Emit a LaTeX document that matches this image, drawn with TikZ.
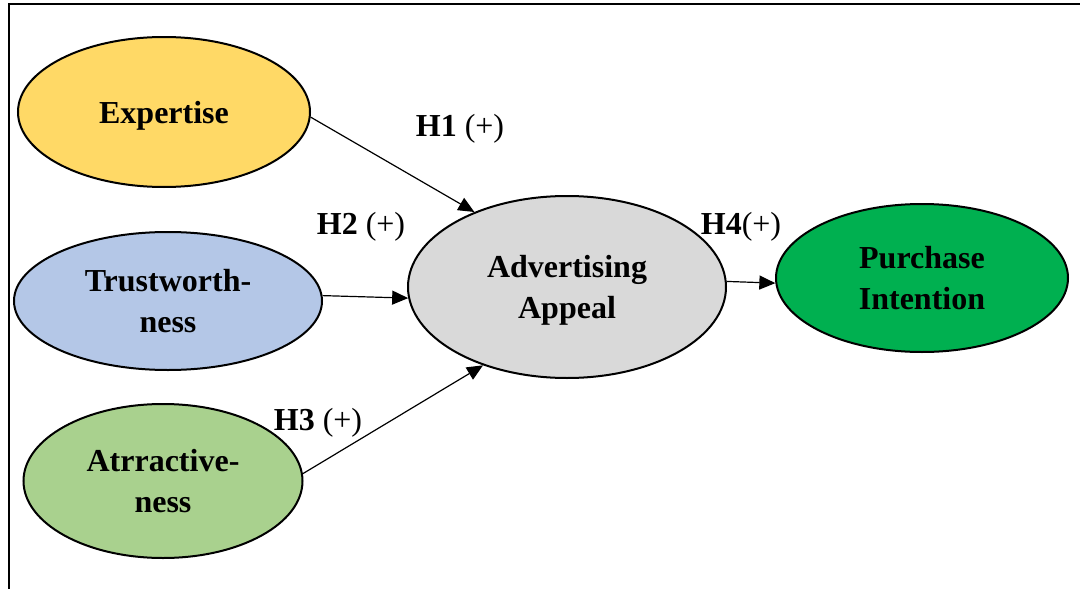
\documentclass[tikz,border=0pt]{standalone}
\usepackage{fontspec}
\setmainfont{Liberation Serif}
\usepackage[svgnames, dvipsnames]{xcolor}
\usetikzlibrary{arrows.meta, shapes.geometric}
\definecolor{expYellow}{HTML}{FFD966}
\definecolor{trustBlue}{HTML}{B4C7E7}
\definecolor{attrGreen}{HTML}{A9D18E}
\definecolor{adGray}{HTML}{D9D9D9}
\definecolor{purGreen}{HTML}{00B050}

\begin{document}
\begin{tikzpicture}[x=1pt, y=-1pt,
    myellipse/.style={ellipse, draw=black, line width=2pt, inner sep=0pt, align=center, text depth=0pt,
        font=\fontsize{32}{41}\selectfont\bfseries},
    myarrow/.style={-{Triangle[length=16pt, width=14pt]}, line width=1.2pt},
    mylabel/.style={font=\fontsize{32}{36}\selectfont}]
    \useasboundingbox (0,0) rectangle (1080,589);
    \draw[line width=2.5pt] (9,589) -- (9,4) -- (1080,4); % frame
    \node[myellipse, minimum width=292pt, minimum height=150pt, fill=expYellow] (myExp) at (164,112) {Expertise};
    \node[myellipse, minimum width=308pt, minimum height=138pt, fill=trustBlue] (myTrust) at (168,301) {Trustworth-\\ness};
    \node[myellipse, minimum width=279pt, minimum height=154pt, fill=attrGreen] (myAttr) at (163,481) {Atrractive-\\ness};
    \node[myellipse, minimum width=318pt, minimum height=182pt, fill=adGray] (myAd) at (567,287) {Advertising\\Appeal};
    \node[myellipse, minimum width=292pt, minimum height=148pt, fill=purGreen] (myPur) at (922,278) {Purchase\\Intention};
    \draw[myarrow] (myExp.-2) -- (myAd.141);
    \draw[myarrow] (myTrust.2) -- (myAd.184);
    \draw[myarrow] (myAttr.3) -- (myAd.223);
    \draw[myarrow] (myAd.2) -- (myPur.182);
    \node[mylabel] (myH1) at (460,129) {\textbf{H1} (+)};
    \node[mylabel] (myH2) at (361,227) {\textbf{H2} (+)};
    \node[mylabel] (myH3) at (318,423) {\textbf{H3} (+)};
    \node[mylabel] (myH4) at (741,227) {\textbf{H4}(+)};
\end{tikzpicture}
\end{document}
